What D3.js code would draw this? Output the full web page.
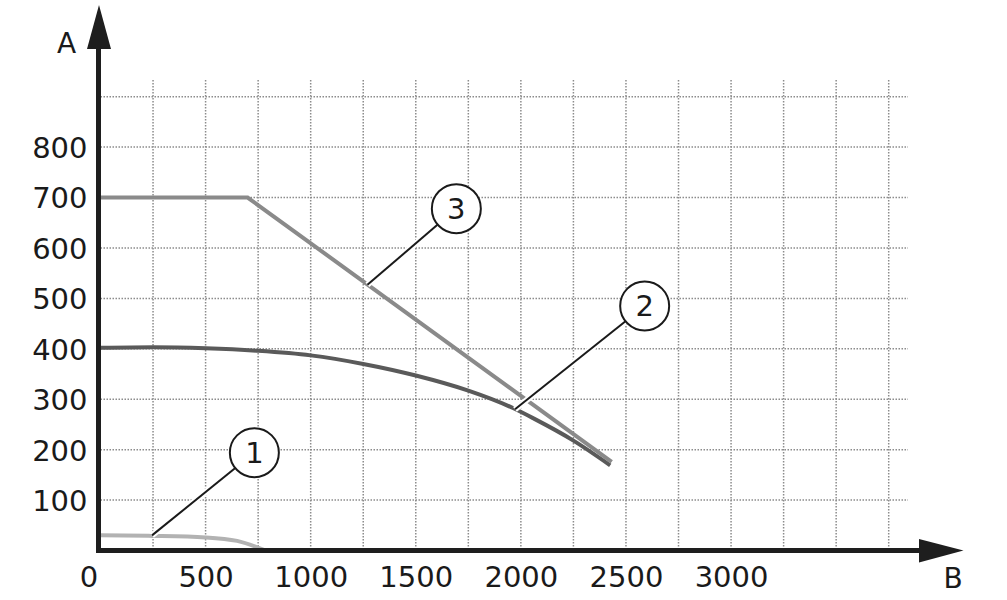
<!DOCTYPE html>
<html>
<head>
<meta charset="utf-8">
<script src="https://cdn.jsdelivr.net/npm/d3@7"></script>
<style>
body{margin:0;background:#fff;}
svg text{font-family:"DejaVu Sans",sans-serif;fill:#1a1a1a;}
</style>
</head>
<body>
<div id="graphHolder"></div>
<script>
// values
var xTicks = [0,500,1000,1500,2000,2500,3000];
var yTicks = [100,200,300,400,500,600,700,800];
var xGrid = [250,500,750,1000,1250,1500,1750,2000,2250,2500,2750,3000,3250,3500,3750];
var yGrid = [100,200,300,400,500,600,700,800,900];

var curve1 = [[0,30],[250,29],[500,26],[650,19],[780,1]];
var curve2 = [[0,402],[250,403],[500,401],[750,396],[1000,387],[1250,370],[1500,347],[1750,317],[1965,282],[2060,262],[2250,218],[2425,169]];
var curve3 = [[0,700],[700,700],[2432,176]];

var curveColors = ["#b2b2b2","#5a5a5a","#8a8a8a"];
var callNames = ["1","2","3"];
var callCircle = [[732,194],[2589,485],[1693,678]];
var callTarget = [[245,30],[1972,280],[1270,527]];

var W = 1007, H = 600;
var svg = d3.select("#graphHolder").append("svg")
	.attr("width",W).attr("height",H);

var x = d3.scaleLinear().domain([0,3750]).range([100.5,888.7]);
var y = d3.scaleLinear().domain([0,900]).range([550.5,96.7]);

// dotted grid
var grid = svg.append("g")
	.attr("stroke","#8c8c8c")
	.attr("stroke-width",1.5)
	.attr("stroke-dasharray","1.5,1.5");
grid.selectAll(".vg").data(xGrid).enter().append("line")
	.attr("x1",function(d){return x(d);}).attr("x2",function(d){return x(d);})
	.attr("y1",80).attr("y2",y(0));
grid.selectAll(".hg").data(yGrid).enter().append("line")
	.attr("y1",function(d){return y(d);}).attr("y2",function(d){return y(d);})
	.attr("x1",x(0)).attr("x2",908);

// curves
var line = d3.line().x(function(d){return x(d[0]);}).y(function(d){return y(d[1]);});
var curves = [curve1,curve2,curve3];
svg.selectAll(".curve").data(curves).enter().append("path")
	.attr("class","curve")
	.attr("d",function(d,i){
		return line.curve(i==2 ? d3.curveLinear : d3.curveMonotoneX)(d);
	})
	.attr("fill","none")
	.attr("stroke",function(d,i){return curveColors[i];})
	.attr("stroke-width",4);

// callouts
var r = 24.5;
for (var i=0;i<callNames.length;i++){
	var cx = x(callCircle[i][0]), cy = y(callCircle[i][1]);
	var tx = x(callTarget[i][0]), ty = y(callTarget[i][1]);
	var dx = tx-cx, dy = ty-cy, len = Math.sqrt(dx*dx+dy*dy);
	var sx = cx+dx/len*r, sy = cy+dy/len*r;
	svg.append("line")
		.attr("x1",sx).attr("y1",sy).attr("x2",tx).attr("y2",ty)
		.attr("stroke","#fff").attr("stroke-width",6);
	svg.append("line")
		.attr("x1",sx).attr("y1",sy).attr("x2",tx).attr("y2",ty)
		.attr("stroke","#1a1a1a").attr("stroke-width",2);
	svg.append("circle")
		.attr("cx",cx).attr("cy",cy).attr("r",r)
		.attr("fill","#fff").attr("stroke","#1a1a1a").attr("stroke-width",2);
	svg.append("text")
		.attr("x",cx).attr("y",cy+10.5)
		.attr("text-anchor","middle")
		.style("font-size","29px")
		.text(callNames[i]);
}

// axes
var x_axis = d3.axisBottom(x).tickValues(xTicks).tickSize(0).tickFormat(d3.format("d"));
var gx = svg.append("g").attr("transform","translate(0,"+y(0)+")").call(x_axis);
gx.select(".domain").remove();
gx.selectAll("text")
	.attr("y",36.5).attr("dy",null)
	.style("font-size","29px").attr("fill","#1a1a1a")
	.style("font-family","DejaVu Sans");
gx.selectAll("text").filter(function(d){return d==0;}).attr("x",-12);

var y_axis = d3.axisLeft(y).tickValues(yTicks).tickSize(0).tickPadding(11).tickFormat(d3.format("d"));
var gy = svg.append("g").attr("transform","translate(98.5,0)").call(y_axis);
gy.select(".domain").remove();
gy.selectAll("text")
	.attr("dy","0.36em")
	.style("font-size","29px").attr("fill","#1a1a1a")
	.style("font-family","DejaVu Sans");

var axisColor = "#1e1e1e";
svg.append("line").attr("x1",98.5).attr("x2",98.5).attr("y1",553).attr("y2",47)
	.attr("stroke",axisColor).attr("stroke-width",5);
svg.append("polygon").attr("points","87,49 111,49 99,5").attr("fill",axisColor);
svg.append("line").attr("x1",96).attr("x2",921).attr("y1",y(0)).attr("y2",y(0))
	.attr("stroke",axisColor).attr("stroke-width",5);
svg.append("polygon").attr("points","919,539 919,562.5 963.5,550.5").attr("fill",axisColor);

svg.append("text").attr("x",66.5).attr("y",52.5).attr("text-anchor","middle")
	.style("font-size","28px").text("A");
svg.append("text").attr("x",953).attr("y",587.5).attr("text-anchor","middle")
	.style("font-size","28px").text("B");
</script>
</body>
</html>
